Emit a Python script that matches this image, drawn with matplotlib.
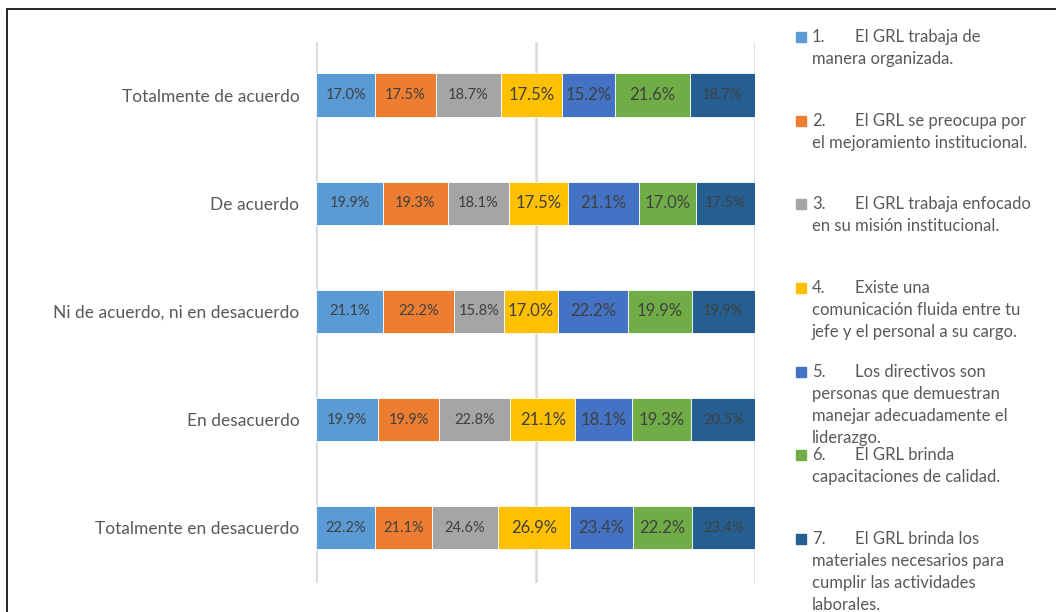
import matplotlib
matplotlib.use("Agg")
import matplotlib.pyplot as plt
import numpy as np
from matplotlib.patches import Rectangle

plt.rcParams['font.family'] = ['Lato', 'DejaVu Sans']

# data
categorias = ["Totalmente de acuerdo", "De acuerdo", "Ni de acuerdo, ni en desacuerdo",
              "En desacuerdo", "Totalmente en desacuerdo"]
p1 = [17.0, 19.9, 21.1, 19.9, 22.2]
p2 = [17.5, 19.3, 22.2, 19.9, 21.1]
p3 = [18.7, 18.1, 15.8, 22.8, 24.6]
p4 = [17.5, 17.5, 17.0, 21.1, 26.9]
p5 = [15.2, 21.1, 22.2, 18.1, 23.4]
p6 = [21.6, 17.0, 19.9, 19.3, 22.2]
p7 = [18.7, 17.5, 19.9, 20.5, 23.4]
series = [p1, p2, p3, p4, p5, p6, p7]

leyenda = [
    ["1.", "El GRL trabaja de", "manera organizada."],
    ["2.", "El GRL se preocupa por", "el mejoramiento institucional."],
    ["3.", "El GRL trabaja enfocado", "en su misión institucional."],
    ["4.", "Existe una", "comunicación fluida entre tu", "jefe y el personal a su cargo."],
    ["5.", "Los directivos son", "personas que demuestran", "manejar adecuadamente el", "liderazgo."],
    ["6.", "El GRL brinda", "capacitaciones de calidad."],
    ["7.", "El GRL brinda los", "materiales necesarios para", "cumplir las actividades", "laborales."],
]

colores = ["#5B9BD5", "#ED7D31", "#A5A5A5", "#FFC000", "#4472C4", "#70AD47", "#255E91"]
tam_etq = [10.5, 10.5, 10.5, 12, 12, 12, 10.5]

W, H = 1056, 612
fig = plt.figure(figsize=(W / 100, H / 100), dpi=100)
ax = fig.add_axes([316 / W, 1 - 583 / H, (755 - 316) / W, (583 - 42) / H])

datos = np.array(series)
totales = datos.sum(axis=0)
y = np.arange(len(categorias))
izq = np.zeros(len(categorias))
for i, s in enumerate(datos):
    ancho = s / totales * 100
    ax.barh(y - 0.01, ancho, left=izq, height=0.4, color=colores[i], edgecolor="white", linewidth=0.6, zorder=3)
    for j in range(len(categorias)):
        ax.text(izq[j] + ancho[j] / 2, y[j] - 0.01, "%.1f%%" % s[j], ha="center", va="center",
                fontsize=tam_etq[i], color="#404040", zorder=4)
    izq += ancho

ax.set_xlim(0, 100)
ax.set_ylim(4.5, -0.5)
ax.set_yticks(y - 0.01)
ax.set_yticklabels(categorias, fontsize=12.5, color="#595959")
ax.tick_params(axis="y", length=0, pad=12)
ax.set_xticks([0, 50, 100])
ax.tick_params(axis="x", length=0, labelbottom=False)
ax.grid(axis="x", color="#D9D9D9", linewidth=1.8, zorder=0)
for sp in ax.spines.values():
    sp.set_visible(False)

# leyenda a la derecha
for k, item in enumerate(leyenda):
    y0 = 37 + k * 83.67
    fig.patches.append(Rectangle((796 / W, 1 - (y0 + 5) / H), 10 / W, 10 / H,
                                 transform=fig.transFigure, color=colores[k]))
    fig.text(812 / W, 1 - y0 / H, item[0], fontsize=12, color="#595959", va="center")
    fig.text(855 / W, 1 - y0 / H, item[1], fontsize=12, color="#595959", va="center")
    for n, linea in enumerate(item[2:]):
        fig.text(812 / W, 1 - (y0 + 22 * (n + 1)) / H, linea, fontsize=12, color="#595959", va="center")

# borde
fig.patches.append(Rectangle((7 / W, -0.1), 1.2, 1 - 9 / H + 0.1, transform=fig.transFigure,
                             fill=False, edgecolor="black", linewidth=1.2))

fig.savefig("out.png", dpi=100)
